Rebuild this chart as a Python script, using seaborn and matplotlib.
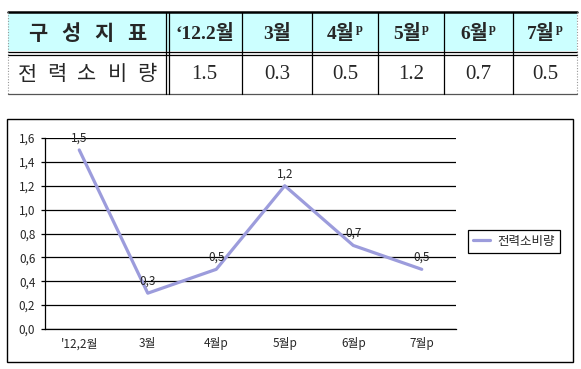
import numpy as np
import pandas as pd
import matplotlib
matplotlib.use("Agg")
from matplotlib import pyplot as plt
from matplotlib.patches import Rectangle
import seaborn as sb

# data
row_title = "구성지표"
row_name = "전력소비량"
series_name = "전력소비량"
table_months = ["\u201812.2월", "3월", "4월", "5월", "6월", "7월"]
preliminary = [False, False, True, True, True, True]
chart_months = ["'12,2월", "3월", "4월p", "5월p", "6월p", "7월p"]
values = [1.5, 0.3, 0.5, 1.2, 0.7, 0.5]

sb.set_style("white")
plt.rcParams['font.family'] = ['Noto Sans CJK KR', 'DejaVu Sans']
serif_kr = ['Liberation Serif', 'Noto Sans CJK KR']

fig = plt.figure(figsize=(5.81, 3.69), dpi=100)

# canvas in pixel coordinates for the table and the chart frame
tab = fig.add_axes([0, 0, 1, 1])
tab.set_xlim(0, 581)
tab.set_ylim(369, 0)
tab.axis('off')

col_edges = [8, 167, 242, 312, 378, 444, 513, 577]
top, mid, bot = 12, 53, 94

tab.add_patch(Rectangle((8, top), 569, mid - top - 2, facecolor='#ccffff', edgecolor='none'))
tab.plot([8, 577], [top, top], color='black', lw=1.8)
tab.plot([8, 577], [mid - 1.5, mid - 1.5], color='black', lw=0.9)
tab.plot([8, 577], [mid + 1.5, mid + 1.5], color='black', lw=0.9)
tab.plot([8, 577], [bot, bot], color='#555555', lw=0.9)
tab.plot([8, 8], [top, bot], color='#999999', lw=0.8, ls=(0, (1, 1.5)))
tab.plot([577, 577], [top, bot], color='#999999', lw=0.8, ls=(0, (1, 1.5)))
tab.plot([165.5, 165.5], [top, bot], color='black', lw=0.9)
tab.plot([168.5, 168.5], [top, bot], color='black', lw=0.9)
for x in col_edges[2:-1]:
    tab.plot([x, x], [top, bot], color='black', lw=0.9)

head_y = (top + mid) / 2 + 1
data_y = (mid + bot) / 2 + 1

# spaced-out row titles
for ch, x in zip(row_title, np.linspace(38, 137, len(row_title))):
    tab.text(x, head_y, ch, ha='center', va='center', fontsize=15, fontweight='bold',
             family=['Noto Sans CJK KR'])
for ch, x in zip(row_name, np.linspace(27, 147, len(row_name))):
    tab.text(x, data_y, ch, ha='center', va='center', fontsize=15,
             family=['Noto Sans CJK KR'])

for i, (m, p, v) in enumerate(zip(table_months, preliminary, values)):
    cx = (col_edges[i + 1] + col_edges[i + 2]) / 2
    if p:
        cx -= 4
    t = tab.text(cx, head_y, m, ha='center', va='center', fontsize=14,
                 fontweight='bold', family=serif_kr)
    if p:
        tab.annotate('p', xy=(1, 1), xycoords=t, xytext=(0.5, 1), textcoords='offset points',
                     ha='left', va='top', fontsize=9, fontweight='bold', family=['Liberation Serif'])
    tab.text(cx + (4 if p else 0), data_y, f"{v:.1f}", ha='center', va='center',
             fontsize=15, family=serif_kr)

# chart frame
tab.add_patch(Rectangle((7, 119), 566, 243, facecolor='none', edgecolor='black', lw=1))

# line chart
df = pd.DataFrame({'month': chart_months, 'value': values})
ax = fig.add_axes([45 / 581, 1 - 329 / 369, 411 / 581, 191 / 369])
line_color = '#9c9cdc'
sb.lineplot(data=df, x='month', y='value', ax=ax, color=line_color, lw=2.3,
            sort=False, label=series_name)

ax.set_xlim(-0.5, 5.5)
ax.set_ylim(0, 1.6)
yt = np.arange(0, 1.61, 0.2)
ax.set_yticks(yt)
ax.set_yticklabels([f"{v:.1f}".replace('.', ',') for v in yt])
ax.yaxis.grid(True, color='black', lw=0.9)
ax.set_axisbelow(True)
ax.set_xlabel('')
ax.set_ylabel('')
for s in ['top', 'right']:
    ax.spines[s].set_visible(False)
for s in ['left', 'bottom']:
    ax.spines[s].set_color('black')
    ax.spines[s].set_linewidth(0.9)
ax.tick_params(axis='y', length=3, width=0.9, color='black', labelsize=8.5, pad=4, left=True)
ax.tick_params(axis='x', length=0, labelsize=8.5, pad=6)

for i, v in enumerate(values):
    ax.annotate(f"{v:.1f}".replace('.', ','), (i, v), xytext=(0, 8.5), textcoords='offset points',
                ha='center', va='center', fontsize=8.5)

leg = ax.legend(loc='center', bbox_to_anchor=(514 / 581, 1 - 241 / 369),
                bbox_transform=fig.transFigure, fancybox=False, fontsize=9,
                handlelength=1.4, borderpad=0.4, handletextpad=0.6, framealpha=1)
leg.get_frame().set_edgecolor('black')
leg.get_frame().set_linewidth(0.9)

plt.savefig("out.png", dpi=100)
